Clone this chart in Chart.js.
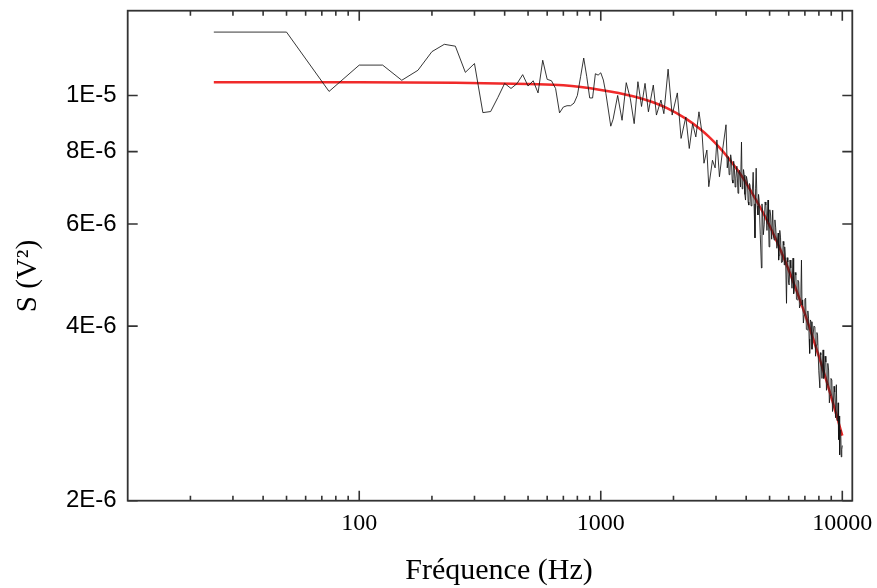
<!DOCTYPE html>
<html>
<head>
<meta charset="utf-8">
<script src="https://cdn.jsdelivr.net/npm/chart.js@4.4.1/dist/chart.umd.min.js"></script>
<style>
  html, body { margin: 0; padding: 0; background: #fff; }
  #wrap { width: 877px; height: 588px; position: relative; }
</style>
</head>
<body>
<div id="wrap"><canvas id="chart"></canvas></div>
<script>
// measured spectrum, frequency in Hz
const noiseFreq = [
  25, 50, 75, 100, 125, 150, 175, 200, 225, 250,
  275, 300, 325, 350, 375, 400, 425, 450, 475, 500,
  525, 550, 575, 600, 625, 650, 675, 700, 725, 750,
  775, 800, 825, 850, 875, 900, 925, 950, 975, 1000,
  1025, 1050, 1100, 1125, 1175, 1225, 1275, 1325, 1375, 1425,
  1475, 1525, 1575, 1650, 1700, 1775, 1825, 1900, 1975, 2075,
  2150, 2250, 2325, 2400, 2475, 2550, 2625, 2675, 2750, 2800,
  2900, 2975, 3025, 3100, 3200, 3300,
  3340, 3375, 3400, 3425, 3450, 3475, 3500, 3525, 3550, 3575,
  3600, 3625, 3660, 3700, 3725, 3750, 3790, 3825, 3850, 3875,
  3900, 3925, 3950, 3975, 4010, 4050, 4075, 4100, 4125, 4150,
  4190, 4225, 4250, 4275, 4310, 4350, 4375, 4400, 4440, 4475,
  4500, 4525, 4575, 4625, 4650, 4675, 4710, 4750, 4790, 4825,
  4875, 4925, 4950, 4975, 5010, 5050, 5100, 5150, 5190, 5225,
  5260, 5300, 5360, 5425, 5450, 5475, 5510, 5550, 5600, 5650,
  5690, 5725, 5750, 5775, 5825, 5875, 5910, 5950, 5990, 6025,
  6075, 6125, 6190, 6250, 6290, 6325, 6375, 6425, 6460, 6500,
  6550, 6600, 6650, 6700, 6740, 6775, 6810, 6850, 6900, 6950,
  7000, 7050, 7100, 7150, 7200, 7250, 7290, 7325, 7375, 7425,
  7490, 7550, 7625, 7700, 7750, 7800, 7850, 7900, 7990, 8075,
  8110, 8150, 8240, 8325, 8375, 8425, 8490, 8550, 8600, 8650,
  8710, 8775, 8840, 8900, 8975, 9050, 9110, 9175, 9240, 9300,
  9375, 9450, 9510, 9575, 9610, 9650, 9700, 9750, 9800, 9850,
  9900, 9950, 10000
]
// S in units of 1E-6 V²
const noiseS = [
  12.86, 12.86, 10.16, 11.28, 11.28, 10.62, 11.05, 11.90, 12.25, 12.16,
  10.96, 11.35, 9.34, 9.38, 9.92, 10.49, 10.28, 10.48, 10.86, 10.38,
  10.60, 10.10, 11.50, 10.66, 10.60, 10.28, 9.33, 9.55, 9.60, 9.60,
  9.70, 10.00, 10.77, 11.60, 10.77, 9.90, 9.90, 10.90, 10.84, 10.94,
  10.63, 10.08, 8.85, 9.10, 10.00, 9.06, 10.52, 9.88, 8.94, 10.56,
  9.57, 10.49, 9.37, 10.42, 9.25, 9.82, 9.30, 11.10, 9.25, 10.10,
  8.43, 9.18, 8.10, 8.94, 8.48, 9.37, 8.62, 7.64, 8.05, 6.96,
  7.73, 7.50, 8.38, 7.24, 8.10, 8.90,
  7.50, 7.84, 7.30, 7.37, 7.90, 7.74, 7.15, 7.06, 7.70, 7.49,
  6.95, 7.20, 7.55, 6.78, 7.35, 7.43, 6.95, 8.31, 6.90, 7.00,
  7.45, 7.29, 6.75, 6.60, 7.25, 7.09, 6.55, 6.47, 7.05, 7.00,
  6.45, 6.65, 6.95, 7.37, 6.50, 5.68, 6.90, 7.49, 6.45, 6.22,
  6.75, 6.60, 5.75, 5.04, 6.50, 6.34, 5.75, 5.98, 6.55, 6.47,
  5.85, 6.60, 6.05, 5.48, 6.35, 6.22, 5.65, 6.34, 5.70, 5.63,
  6.10, 5.91, 5.45, 5.79, 5.20, 5.30, 5.85, 5.68, 5.15, 5.16,
  5.60, 5.52, 5.10, 5.48, 5.20, 4.38, 5.25, 5.16, 4.75, 4.71,
  5.20, 5.04, 4.65, 5.24, 4.55, 4.62, 4.95, 4.90, 4.45, 4.44,
  4.80, 4.77, 4.30, 4.35, 4.60, 5.20, 4.35, 4.44, 4.05, 4.18,
  4.45, 4.47, 3.95, 3.94, 4.25, 4.13, 3.80, 3.59, 4.10, 4.07,
  3.65, 3.79, 4.00, 3.99, 3.55, 3.71, 3.90, 3.86, 3.35, 3.13,
  3.60, 3.57, 3.25, 3.64, 3.25, 3.29, 3.55, 3.47, 3.10, 3.17,
  3.45, 3.36, 2.95, 3.04, 3.25, 3.23, 2.85, 2.92, 3.15, 3.08,
  2.78, 3.17, 2.75, 2.76, 2.95, 2.55, 2.80, 2.40, 2.62, 2.65,
  2.38, 2.45, 2.49
]

// fitted curve (red)
const fitFreq = [25, 100, 250, 500, 700, 1000, 1360, 1600, 1880, 2250, 2570, 2800, 3110, 3400,
  3765, 4000, 4630, 5000, 5510, 6000, 6560, 7000, 7330, 8190, 8600, 9150, 9600, 10000]
const fitS = [10.54, 10.54, 10.52, 10.46, 10.41, 10.22, 9.97, 9.77, 9.51, 9.12, 8.76, 8.49, 8.12, 7.77,
  7.34, 7.06, 6.35, 5.96, 5.45, 5.00, 4.53, 4.20, 3.97, 3.44, 3.22, 2.95, 2.75, 2.59]

const S_UNIT = 1e-6

const xMajorTicks = [100, 1000, 10000]
const xMinorTicks = [20, 30, 40, 50, 60, 70, 80, 90, 200, 300, 400, 500, 600, 700, 800, 900,
  2000, 3000, 4000, 5000, 6000, 7000, 8000, 9000]
const yTicks = [2e-6, 4e-6, 6e-6, 8e-6, 1e-5]

const xTitle = "Fréquence (Hz)"
const yTitle = "S (V²)"

const toPoints = (xs, ys) => xs.map((f, i) => ({ x: f, y: ys[i] * S_UNIT }))

const fmtE = (v) => {
  const e = Math.floor(Math.log10(v) + 1e-9)
  const m = Math.round(v / Math.pow(10, e))
  return `${m}E${e}`
}

// frame, inward ticks on all four sides, and axis titles
const framePlugin = {
  id: "frame",
  afterDraw(chart) {
    const { ctx, chartArea: a, scales } = chart
    const x = scales.x
    const y = scales.y
    ctx.save()
    ctx.strokeStyle = "#333"
    ctx.lineWidth = 1.6
    ctx.beginPath()
    const tick = (px, len) => {
      ctx.moveTo(px, a.bottom); ctx.lineTo(px, a.bottom - len)
      ctx.moveTo(px, a.top); ctx.lineTo(px, a.top + len)
    }
    xMajorTicks.forEach(v => tick(x.getPixelForValue(v), 10))
    xMinorTicks.forEach(v => tick(x.getPixelForValue(v), 5))
    yTicks.forEach(v => {
      const py = y.getPixelForValue(v)
      ctx.moveTo(a.left, py); ctx.lineTo(a.left + 10, py)
      ctx.moveTo(a.right, py); ctx.lineTo(a.right - 10, py)
    })
    ctx.stroke()
    ctx.lineWidth = 1.8
    ctx.strokeRect(a.left, a.top, a.right - a.left, a.bottom - a.top)

    ctx.fillStyle = "#000"
    ctx.font = "30px 'Liberation Serif', 'Times New Roman', serif"
    ctx.textAlign = "center"
    ctx.textBaseline = "alphabetic"
    ctx.fillText(xTitle, a.left + (a.right - a.left) / 2 + 9, 579)

    ctx.font = "29px 'Liberation Serif', 'Times New Roman', serif"
    ctx.translate(36, 276)
    ctx.rotate(-Math.PI / 2)
    ctx.fillText(yTitle, 0, 0)
    ctx.restore()
  }
}

new Chart(document.getElementById("chart"), {
  type: "line",
  data: {
    datasets: [
      {
        label: "mesure",
        data: toPoints(noiseFreq, noiseS),
        borderColor: "rgba(20,20,20,0.85)",
        borderWidth: 1,
        pointRadius: 0,
        tension: 0
      },
      {
        label: "ajustement",
        data: toPoints(fitFreq, fitS),
        borderColor: "#f02a2a",
        borderWidth: 2.5,
        pointRadius: 0,
        cubicInterpolationMode: "monotone"
      }
    ]
  },
  options: {
    responsive: true,
    maintainAspectRatio: false,
    animation: false,
    layout: { padding: { left: 0, right: 24.7, top: 10.7, bottom: 0 } },
    plugins: {
      legend: { display: false },
      tooltip: { enabled: false }
    },
    scales: {
      x: {
        type: "logarithmic",
        min: 11,
        max: 11000,
        afterBuildTicks: (s) => { s.ticks = xMajorTicks.map(v => ({ value: v })) },
        afterFit: (s) => { s.height = 87.3; s.paddingLeft = 0; s.paddingRight = 0 },
        grid: { display: false, drawTicks: false },
        border: { display: false },
        ticks: {
          color: "#000",
          padding: 9,
          maxRotation: 0,
          autoSkip: false,
          font: { family: "'Liberation Serif', 'Times New Roman', serif", size: 24 },
          callback: (v) => String(v)
        }
      },
      y: {
        type: "logarithmic",
        min: 2e-6,
        max: 1.4e-5,
        afterBuildTicks: (s) => { s.ticks = yTicks.map(v => ({ value: v })) },
        afterFit: (s) => { s.width = 127.7; s.paddingTop = 0; s.paddingBottom = 0 },
        grid: { display: false, drawTicks: false },
        border: { display: false },
        ticks: {
          color: "#000",
          padding: 11,
          autoSkip: false,
          font: { family: "'Liberation Sans', Arial, sans-serif", size: 24 },
          callback: (v) => fmtE(v)
        }
      }
    }
  },
  plugins: [framePlugin]
})
</script>
</body>
</html>
